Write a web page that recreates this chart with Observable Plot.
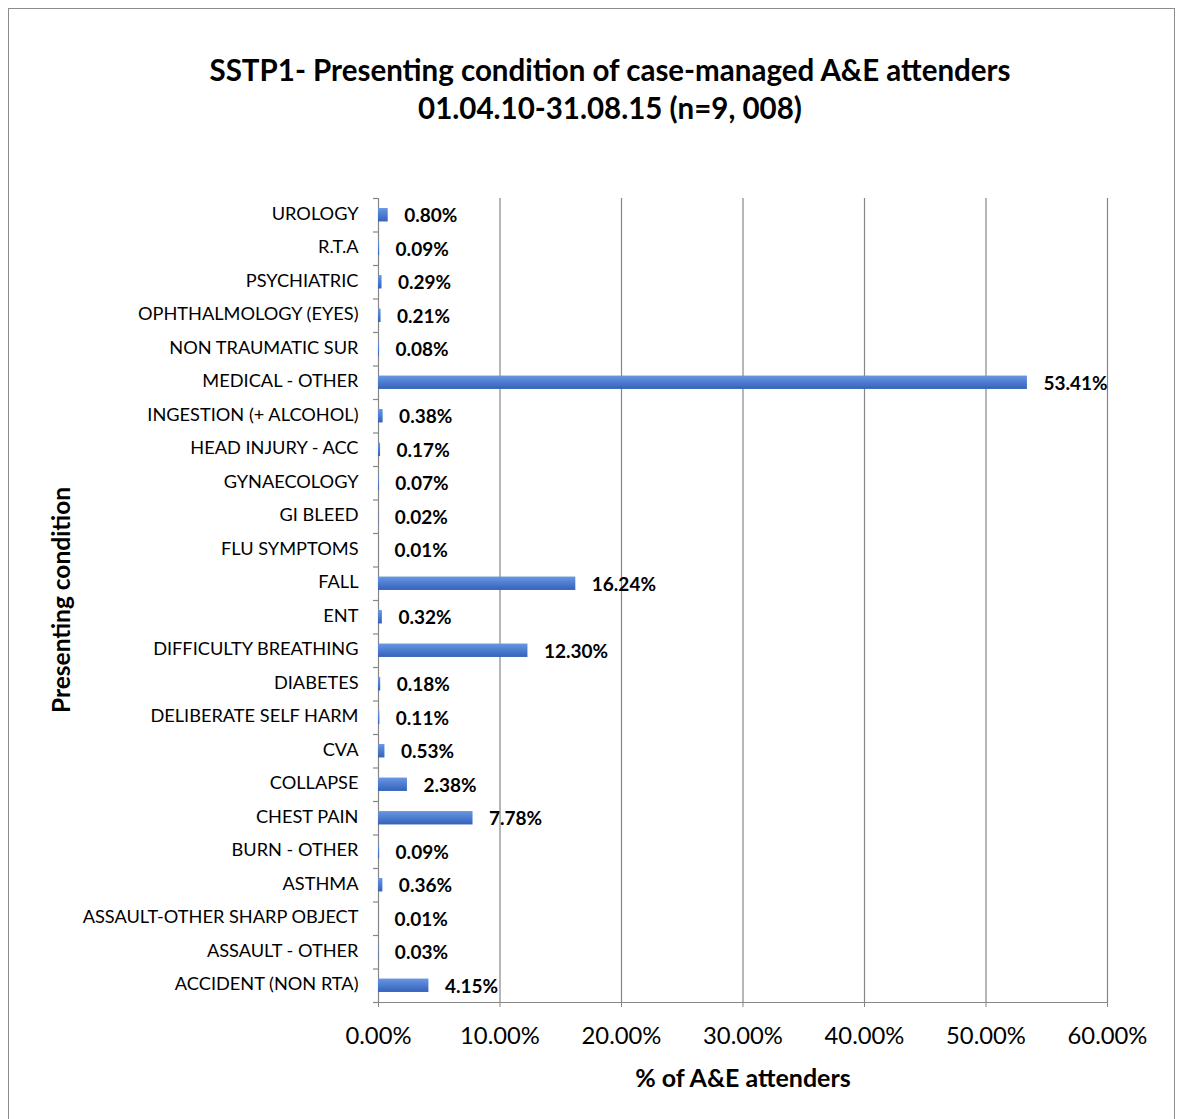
<!DOCTYPE html>
<html>
<head>
<meta charset="utf-8">
<script src="https://cdn.jsdelivr.net/npm/d3@7"></script>
<script src="https://cdn.jsdelivr.net/npm/@observablehq/plot@0.6"></script>
<style>
  html, body { margin: 0; padding: 0; background: #fff; }
  body { width: 1182px; height: 1119px; position: relative; overflow: hidden; font-family: Lato, "Open Sans", sans-serif; }
  #frame { position: absolute; left: 8px; top: 8px; width: 1167px; height: 1130px; border: 1px solid #8c8c8c; box-sizing: border-box; }
  #title { position: absolute; left: 110px; width: 1000px; top: 51px; text-align: center; font-weight: bold; font-size: 29.5px; line-height: 38px; color: #000; }
  #xtitle { position: absolute; left: 493px; width: 500px; top: 1062px; text-align: center; font-weight: bold; font-size: 25px; color: #000; }
  #ytitle { position: absolute; left: 60px; top: 600px; transform: translate(-50%, -50%) rotate(-90deg); white-space: nowrap; font-weight: bold; font-size: 24.5px; color: #000; }
  #chart { position: absolute; left: 0; top: 0; }
</style>
</head>
<body>
<div id="frame"></div>
<div id="chart"></div>
<div id="title">SSTP1- Presenting condition of case-managed A&amp;E attenders<br>01.04.10-31.08.15 (n=9, 008)</div>
<div id="ytitle">Presenting condition</div>
<div id="xtitle">% of A&amp;E attenders</div>
<script>
// Presenting conditions, listed top to bottom
const categories = [
  "UROLOGY", "R.T.A", "PSYCHIATRIC", "OPHTHALMOLOGY (EYES)", "NON TRAUMATIC SUR",
  "MEDICAL - OTHER", "INGESTION (+ ALCOHOL)", "HEAD INJURY - ACC", "GYNAECOLOGY",
  "GI BLEED", "FLU SYMPTOMS", "FALL", "ENT", "DIFFICULTY BREATHING", "DIABETES",
  "DELIBERATE SELF HARM", "CVA", "COLLAPSE", "CHEST PAIN", "BURN - OTHER", "ASTHMA",
  "ASSAULT-OTHER SHARP OBJECT", "ASSAULT - OTHER", "ACCIDENT (NON RTA)"
];

// Share of A&E attenders (%)
const shares = [
  0.80, 0.09, 0.29, 0.21, 0.08,
  53.41, 0.38, 0.17, 0.07,
  0.02, 0.01, 16.24, 0.32, 12.30, 0.18,
  0.11, 0.53, 2.38, 7.78, 0.09, 0.36,
  0.01, 0.03, 4.15
];

const xTicks = [0, 10, 20, 30, 40, 50, 60];

const data = categories.map((c, i) => ({category: c, value: shares[i]}));
const pct = v => v.toFixed(2) + "%";

const W = 1182, H = 1119;
const mL = 378, mR = 75, mT = 198, mB = 117;
const step = (H - mT - mB) / categories.length;
const grid = "#868686";

const chart = Plot.plot({
  width: W,
  height: H,
  marginLeft: mL,
  marginRight: mR,
  marginTop: mT,
  marginBottom: mB,
  style: {fontFamily: "Lato, 'Open Sans', sans-serif", color: "#000", background: "transparent", overflow: "visible"},
  x: {domain: [0, 60], ticks: xTicks, label: null},
  y: {domain: categories, paddingInner: 0.6, paddingOuter: 0.3, round: false, label: null},
  marks: [
    // vertical gridlines
    Plot.ruleX(xTicks.filter(v => v > 0), {stroke: grid, strokeWidth: 1.2}),
    // category axis line
    Plot.ruleX([0], {stroke: grid, strokeWidth: 1.2}),
    // value axis line
    Plot.frame({anchor: "bottom", stroke: grid, strokeWidth: 1.2}),
    // category boundary tick marks
    Plot.ruleY(categories, {y: d => d, x1: 0, x2: 0, insetLeft: -5, dy: -step / 2, stroke: grid, strokeWidth: 1.2}),
    Plot.ruleY(categories.slice(-1), {y: d => d, x1: 0, x2: 0, insetLeft: -5, dy: step / 2, stroke: grid, strokeWidth: 1.2}),
    Plot.axisX({ticks: xTicks, tickFormat: pct, tickSize: 5, tickPadding: 20, fontSize: 23.8, stroke: grid, fill: "#000", label: null}),
    Plot.axisY({tickSize: 0, tickPadding: 20, fontSize: 18.2, dy: -1.5, fill: "#000", label: null}),
    Plot.barX(data, {x: "value", y: "category", fill: "url(#barGrad)"}),
    Plot.text(data, {x: "value", y: "category", text: d => pct(d.value), dx: 16, dy: 1, textAnchor: "start", fontWeight: "bold", fontSize: 19, fill: "#000"})
  ]
});

// vertical gradient used by the bars
const defs = d3.select(chart).insert("defs", ":first-child");
const lg = defs.append("linearGradient").attr("id", "barGrad").attr("x1", 0).attr("y1", 0).attr("x2", 0).attr("y2", 1);
lg.append("stop").attr("offset", "0%").attr("stop-color", "#6a97e0");
lg.append("stop").attr("offset", "45%").attr("stop-color", "#4f7fd2");
lg.append("stop").attr("offset", "100%").attr("stop-color", "#3562b8");

document.getElementById("chart").appendChild(chart);
</script>
</body>
</html>
